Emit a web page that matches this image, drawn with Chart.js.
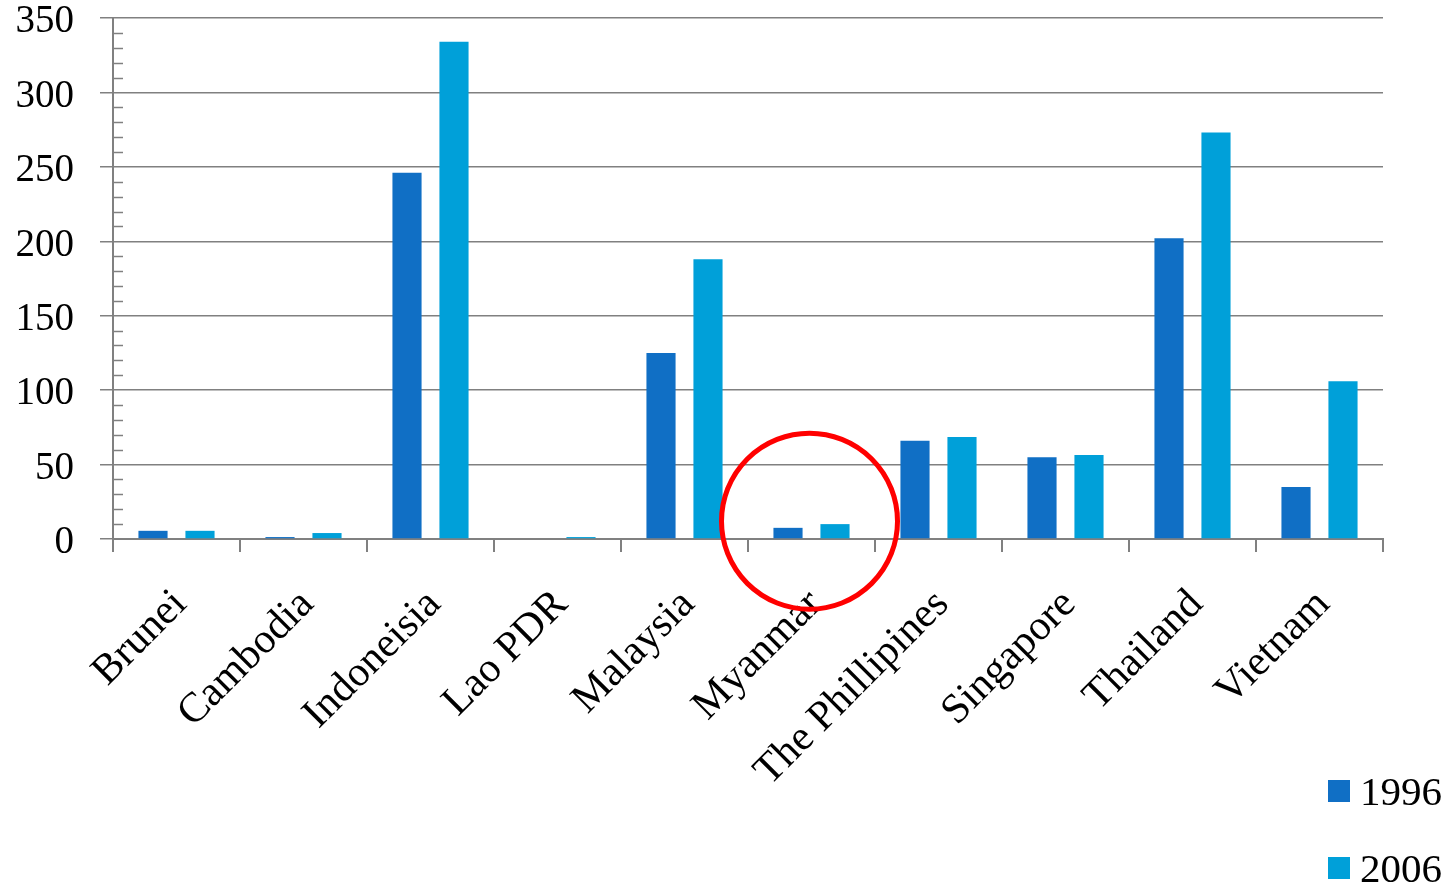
<!DOCTYPE html>
<html>
<head>
<meta charset="utf-8">
<script src="https://cdn.jsdelivr.net/npm/chart.js@4/dist/chart.umd.min.js"></script>
<style>
  html, body { margin: 0; padding: 0; background: #fff; overflow: hidden; }
  #wrap { position: relative; width: 1456px; height: 885px; }
  #legend { position: absolute; left: 1328px; top: 764px; font-family: "Liberation Serif", serif; font-size: 41px; color: #000; }
  #legend .item { display: flex; align-items: center; height: 54px; margin-bottom: 23px; }
  #legend .box { width: 22px; height: 22px; margin-right: 10px; }
</style>
</head>
<body>
<div id="wrap">
  <canvas id="chart" width="1456" height="885"></canvas>
  <div id="legend"></div>
</div>
<script>
  // ===== 데이터 =====
  const countries = ["Brunei", "Cambodia", "Indoneisia", "Lao PDR", "Malaysia",
    "Myanmar", "The Phillipines", "Singapore", "Thailand", "Vietnam"];
  const v1996 = [5.5, 1.3, 246, 0, 125, 7.5, 66, 55, 202, 35];
  const v2006 = [5.5, 4, 334, 1.3, 188, 10, 68.5, 56.5, 273, 106];
  const yTicks = [0, 50, 100, 150, 200, 250, 300, 350];
  const seriesNames = ["1996", "2006"];
  const seriesColors = ["#106fc5", "#00a0d9"];

  const FONT = "'Liberation Serif', 'Times New Roman', serif";
  const GRAY = "#808080";

  // 보조 눈금(10 단위) + 미얀마 강조 원
  const extras = {
    id: "extras",
    afterDraw(chart) {
      const { ctx, scales: { x, y } } = chart;
      ctx.save();
      ctx.strokeStyle = GRAY;
      ctx.lineWidth = 1.5;
      for (let v = 10; v < 350; v += 10) {
        if (v % 50 === 0) continue;
        const py = Math.round(y.getPixelForValue(v)) + 0.5;
        ctx.beginPath();
        ctx.moveTo(x.left, py);
        ctx.lineTo(x.left + 10, py);
        ctx.stroke();
      }
      // 강조 원
      const cx = x.getPixelForValue(5) - 2;
      const cy = y.getPixelForValue(12);
      ctx.strokeStyle = "#ff0000";
      ctx.lineWidth = 5;
      ctx.beginPath();
      ctx.arc(cx, cy, 88, 0, Math.PI * 2);
      ctx.stroke();
      ctx.restore();
    }
  };

  new Chart(document.getElementById("chart"), {
    type: "bar",
    data: {
      labels: countries,
      datasets: seriesNames.map((name, i) => ({
        label: name,
        data: i === 0 ? v1996 : v2006,
        backgroundColor: seriesColors[i],
        borderWidth: 0,
        categoryPercentage: 0.74,
        barPercentage: 0.62,
      })),
    },
    options: {
      responsive: false,
      animation: false,
      devicePixelRatio: 1,
      layout: { padding: { top: 0, right: 73, bottom: 0, left: 0 } },
      plugins: { legend: { display: false }, tooltip: { enabled: false } },
      scales: {
        x: {
          offset: true,
          afterFit: (s) => { s.height = 885 - 539; s.paddingLeft = 0; s.paddingRight = 0; },
          grid: { display: true, drawOnChartArea: false, drawTicks: true, tickLength: 13, color: GRAY, lineWidth: 2 },
          border: { color: GRAY, width: 2 },
          ticks: {
            minRotation: 45, maxRotation: 45, autoSkip: false,
            padding: 28,
            labelOffset: 4,
            color: "#000",
            font: { family: FONT, size: 42 },
          },
        },
        y: {
          min: 0, max: 350,
          afterFit: (s) => { s.width = 113; s.paddingTop = 18; s.paddingBottom = 0; },
          afterBuildTicks: (s) => { s.ticks = yTicks.map((v) => ({ value: v })); },
          grid: { color: GRAY, lineWidth: 1.5, tickLength: 13 },
          border: { color: GRAY, width: 2 },
          ticks: {
            padding: 26,
            labelOffset: 4,
            color: "#000",
            font: { family: FONT, size: 39 },
          },
        },
      },
    },
    plugins: [extras],
  });

  // 범례 (오른쪽 아래)
  document.getElementById("legend").innerHTML = seriesNames
    .map((n, i) => `<div class="item"><span class="box" style="background:${seriesColors[i]}"></span>${n}</div>`)
    .join("");
</script>
</body>
</html>
